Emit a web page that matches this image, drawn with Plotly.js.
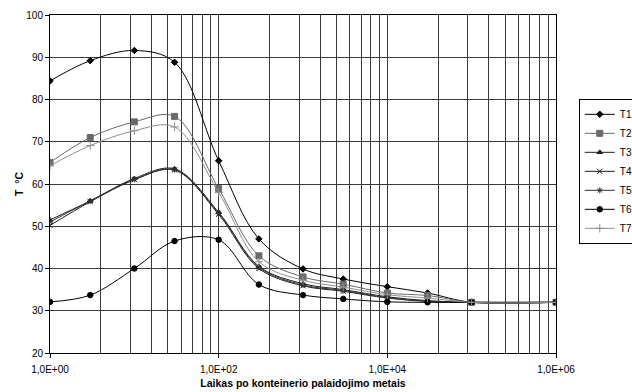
<!DOCTYPE html>
<html>
<head>
<meta charset="utf-8">
<script src="https://cdn.plot.ly/plotly-3.0.1.min.js"></script>
<style>html,body{margin:0;padding:0;background:#fff;}#chart{width:632px;height:392px;}</style>
</head>
<body>
<div id="chart"></div>
<script>
// Time after container burial (years), log scale
var timeX = [1, 3, 10, 30, 100, 300, 1000, 3000, 10000, 30000, 100000, 1000000];

var T1 = [84.4, 89.2, 91.6, 88.8, 65.5, 47.0, 39.9, 37.5, 35.7, 34.2, 32.0, 32.0];
var T2 = [65.1, 71.0, 74.7, 76.0, 58.9, 43.0, 38.0, 36.3, 34.2, 33.6, 32.0, 32.0];
var T3 = [51.5, 56.0, 61.3, 63.6, 53.3, 40.5, 36.4, 35.0, 33.3, 32.4, 32.0, 32.0];
var T4 = [50.2, 55.8, 61.0, 63.3, 52.8, 40.0, 35.9, 34.6, 33.0, 32.2, 32.0, 32.0];
var T5 = [51.0, 56.0, 61.1, 63.4, 53.1, 40.3, 36.1, 34.8, 33.1, 32.3, 32.0, 32.0];
var T6 = [32.1, 33.7, 40.0, 46.5, 46.8, 36.2, 33.7, 32.8, 32.1, 32.0, 32.0, 32.0];
var T7 = [64.3, 69.1, 72.6, 73.5, 58.0, 41.6, 37.2, 35.6, 33.8, 33.0, 32.0, 32.0];

var seriesNames = ["T1", "T2", "T3", "T4", "T5", "T6", "T7"];

var xMajorTicks = [1, 100, 10000, 1000000];
var xMajorLabels = ["1,0E+00", "1,0E+02", "1,0E+04", "1,0E+06"];
var xMinorGrid = [4, 9, 16, 25, 36, 49, 64, 81,
                  400, 900, 1600, 2500, 3600, 4900, 6400, 8100,
                  40000, 90000, 160000, 250000, 360000, 490000, 640000, 810000];
var yTicks = [20, 30, 40, 50, 60, 70, 80, 90, 100];

var styles = [
  {color: "#000000", symbol: "diamond", size: 5, mcolor: "#000000"},
  {color: "#6a6a6a", symbol: "square", size: 6, mcolor: "#6a6a6a"},
  {color: "#1e1e1e", symbol: "triangle-up", size: 5, mcolor: "#1e1e1e"},
  {color: "#1e1e1e", symbol: "x-thin-open", size: 5, mcolor: "#1e1e1e"},
  {color: "#333333", symbol: "asterisk-open", size: 5, mcolor: "#333333"},
  {color: "#000000", symbol: "circle", size: 5.5, mcolor: "#000000"},
  {color: "#8f8f8f", symbol: "cross-thin-open", size: 6, mcolor: "#8f8f8f"}
];
var data = [T1, T2, T3, T4, T5, T6, T7];

var traces = data.map(function (ys, i) {
  var s = styles[i];
  return {
    x: timeX, y: ys, name: seriesNames[i], type: "scatter", mode: "lines+markers",
    line: {color: s.color, width: 1, shape: "spline", smoothing: 1},
    marker: {symbol: s.symbol, size: s.size, color: s.mcolor,
             line: {color: s.mcolor, width: 1}}
  };
});

var gridC = "#3a3a3a";
var layout = {
  width: 632, height: 392,
  margin: {l: 50, r: 76, t: 15, b: 39, pad: 0, autoexpand: false},
  paper_bgcolor: "#ffffff", plot_bgcolor: "#ffffff",
  font: {family: "Liberation Sans, Arial, sans-serif", size: 10, color: "#000"},
  showlegend: true,
  legend: {
    x: 1.045, y: 0.752, xanchor: "left", yanchor: "top",
    bordercolor: "#000", borderwidth: 1, bgcolor: "#fff",
    font: {size: 10, color: "#000"}, tracegroupgap: 0, itemwidth: 30
  },
  xaxis: {
    type: "log", range: [0, 6],
    tickmode: "array", tickvals: xMajorTicks, ticktext: xMajorLabels,
    ticks: "outside", ticklen: 4, tickcolor: "#000", ticklabelstandoff: 3,
    showgrid: true, gridcolor: gridC, gridwidth: 1,
    minor: {tickmode: "array", tickvals: xMinorGrid, showgrid: true, gridcolor: gridC, gridwidth: 1, ticks: ""},
    showline: true, linecolor: "#000", linewidth: 1, mirror: true,
    zeroline: false,
    tickfont: {size: 10},
    title: {text: "Laikas po konteinerio palaidojimo metais", font: {size: 10.5, color: "#000", weight: "bold"}, standoff: 5}
  },
  yaxis: {
    range: [20, 100], tickmode: "array", tickvals: yTicks,
    ticks: "outside", ticklen: 4, tickcolor: "#000",
    showgrid: true, gridcolor: gridC, gridwidth: 1,
    showline: true, linecolor: "#000", linewidth: 1, mirror: true,
    zeroline: false,
    tickfont: {size: 10},
    title: {text: "T  °C", font: {size: 10.5, color: "#000", weight: "bold"}, standoff: 0}
  }
};

Plotly.newPlot("chart", traces, layout, {displayModeBar: false, staticPlot: true});
</script>
</body>
</html>
